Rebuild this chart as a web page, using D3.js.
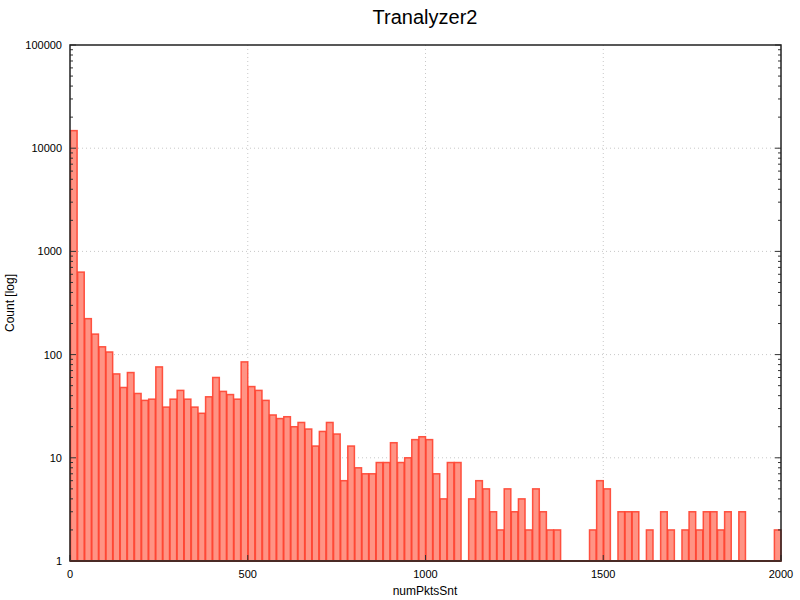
<!DOCTYPE html>
<html><head><meta charset="utf-8">
<script src="https://cdn.jsdelivr.net/npm/d3@7"></script>
<style>body{margin:0;background:#fff}svg{display:block;font-family:"Liberation Sans",Arial,sans-serif}</style>
</head><body><svg id="c" width="800" height="600"></svg>
<script>
const binStarts = d3.range(0, 2000, 20);
const counts = [14800,630,223,158,119,106,65,48,67,42,
36,37,76,31,37,45,37,31,27,39,
60,44,41,37,85,49,45,36,26,24,
25,20,22,19,13,18,22,17,6,13,
8,7,7,9,9,14,9,10,15,16,
15,7,4,9,9,0,4,6,5,3,
2,5,3,4,2,5,3,2,2,0,
0,0,0,2,6,5,0,3,3,3,
0,2,0,3,2,0,2,3,2,3,
3,2,3,0,3,0,0,0,0,2];
const binWidth = 20;
const xTicks = [0,500,1000,1500,2000];
const yTicks = [1,10,100,1000,10000,100000];

const svg = d3.select("#c");
const L=70,R=781,T=45,B=561;
const x = d3.scaleLinear().domain([0,2000]).range([L,R]);
const y = d3.scaleLog().domain([1,100000]).range([B,T]);

// grid
const g = svg.append("g");
g.selectAll(".gx").data(xTicks.filter(t=>t>0&&t<2000)).enter().append("line")
 .attr("x1",d=>x(d)).attr("x2",d=>x(d)).attr("y1",T).attr("y2",B)
 .attr("stroke","#c8c8c8").attr("stroke-dasharray","1,3");
g.selectAll(".gy").data(yTicks.filter(t=>t>1&&t<100000)).enter().append("line")
 .attr("x1",L).attr("x2",R).attr("y1",d=>y(d)).attr("y2",d=>y(d))
 .attr("stroke","#c8c8c8").attr("stroke-dasharray","1,3");

// bars
const data = binStarts.map((s,i)=>({s, v:counts[i]})).filter(d=>d.v>0);
svg.append("g").selectAll("rect").data(data).enter().append("rect")
 .attr("x",d=>x(d.s)+0.5).attr("width",d=>x(d.s+binWidth)-x(d.s)-0.5)
 .attr("y",d=>y(d.v)).attr("height",d=>B-y(d.v))
 .attr("fill","#ff9384").attr("stroke","#ff4230").attr("stroke-opacity",0.9).attr("stroke-width",1.5);

// minor ticks on y (left/right)
const minors=[];
for(let e=0;e<5;e++) for(let k=1;k<=9;k++) minors.push(k*Math.pow(10,e));
minors.push(100000);
const ax = svg.append("g");
minors.forEach(m=>{
  const major = yTicks.includes(m);
  const len = major?6:3;
  ax.append("line").attr("x1",L).attr("x2",L+len).attr("y1",y(m)).attr("y2",y(m)).attr("stroke","#333");
  ax.append("line").attr("x1",R).attr("x2",R-len).attr("y1",y(m)).attr("y2",y(m)).attr("stroke","#333");
});
xTicks.forEach(t=>{
  ax.append("line").attr("x1",x(t)).attr("x2",x(t)).attr("y1",B).attr("y2",B-6).attr("stroke","#333");
});
// border
ax.append("rect").attr("x",L).attr("y",T).attr("width",R-L).attr("height",B-T)
 .attr("fill","none").attr("stroke","#222").attr("stroke-width",1.5);
ax.append("line").attr("x1",L).attr("x2",R).attr("y1",B).attr("y2",B).attr("stroke","#4a2a25").attr("stroke-width",2);

// labels
svg.selectAll(".yl").data(yTicks).enter().append("text")
 .attr("x",L-8).attr("y",d=>y(d)+4).attr("text-anchor","end")
 .attr("font-size",11).text(d=>String(d));
svg.selectAll(".xl").data(xTicks).enter().append("text")
 .attr("x",d=>x(d)).attr("y",B+17).attr("text-anchor","middle")
 .attr("font-size",11).text(d=>String(d));
svg.append("text").attr("x",425).attr("y",24).attr("text-anchor","middle")
 .attr("font-size",20).text("Tranalyzer2");
svg.append("text").attr("x",425).attr("y",595).attr("text-anchor","middle")
 .attr("font-size",12).text("numPktsSnt");
svg.append("text").attr("transform","translate(14,303) rotate(-90)").attr("text-anchor","middle")
 .attr("font-size",12).text("Count [log]");
</script></body></html>
